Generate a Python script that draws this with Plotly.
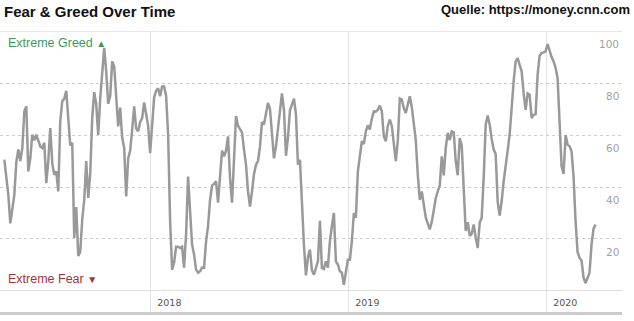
import pandas as pd
import plotly.graph_objects as go

# --- data ---
start_date = "2017-04-06"
end_date = "2020-03-31"
fear_greed = [
    50.5, 44.7, 37, 26, 31.9, 37, 49.6, 54.4, 50, 55,
    69, 71, 46, 51, 60.1, 58, 60.1, 58, 55.6, 55,
    57, 41.5, 50, 62.7, 49, 44.7, 46, 38.3, 65.3, 73,
    74, 77, 66.5, 56, 57, 20.4, 32.3, 13.5, 15, 27.5,
    35, 50, 35.8, 45, 66.5, 76.5, 72, 60, 74, 83.8,
    93.5, 84.5, 72, 75, 88.3, 86.4, 72.5, 63.3, 70.5, 59,
    55, 36.4, 51, 54, 62, 71, 62.5, 61.4, 65, 66.5,
    72.5, 67.5, 63.5, 53, 66, 74.5, 77, 78, 74.9, 78.7,
    78.7, 75, 60.1, 27, 8.2, 11, 17, 17, 16.5, 17,
    9, 22, 44, 32, 17.8, 14, 8.2, 7, 7.6, 9,
    8.9, 19, 25, 35, 40.5, 41.2, 42.2, 34, 43.5, 54,
    51.8, 54, 59.5, 43.5, 34, 50, 67.3, 63.5, 62.1, 61,
    54.4, 48.5, 38.3, 32.5, 38.3, 45, 48.6, 50, 55.6, 65,
    64, 68.5, 72.3, 70, 58.8, 51, 55.6, 62.5, 71.7, 76,
    69.7, 52, 58.8, 69.5, 71.7, 74, 68, 48.6, 50.5, 32,
    17.8, 6, 13, 15.9, 8, 6.3, 8.5, 11.4, 27, 8.9,
    8.5, 11.4, 9, 19.1, 25, 30, 11.4, 10.2, 7.6, 7,
    2.4, 8, 12, 12, 19.1, 30, 28.2, 46, 52, 57.6,
    56.5, 61.4, 63.7, 62.1, 66.3, 69.1, 69, 69.7, 71.3, 69.1,
    59.5, 57.6, 63.5, 65.9, 63.5, 55.6, 50, 57.6, 74, 73.6,
    70.3, 68.5, 71.3, 74.9, 70.7, 65.3, 58, 44.7, 35, 38.3,
    34, 28.2, 26, 23.7, 26.5, 31.3, 35.7, 38.3, 40.5, 51.8,
    44.5, 55, 60.8, 58, 61.4, 61, 50, 44.5, 58.8, 56,
    39, 23.1, 26.5, 21.2, 22, 25.6, 20.5, 16.5, 26.2, 28.2,
    43.5, 64, 67.5, 64, 58.5, 54.4, 52.7, 34.5, 29, 34.5,
    42.2, 47.3, 54, 60.1, 71, 80.6, 88.3, 89.6, 87, 84.5,
    76, 69.7, 76, 75.5, 66.5, 67.8, 68, 83.2, 90.5, 91.5,
    91.8, 92.2, 95, 92.2, 90, 88.3, 85.8, 81.9, 65, 48,
    45, 60, 56.3, 55.7, 53.7, 44, 26.8, 15, 12.7, 11.7,
    5.1, 3, 5.1, 7, 17.9, 24, 25.5,
]
dates = pd.date_range(start_date, end_date, periods=len(fear_greed))

y_ticks = [20, 40, 60, 80, 100]
y_labels = ["20", "40", "60", "80", "100"]
x_range = ["2017-03-29", "2020-05-18 19:00"]
y_range = [-8.08, 100]

title_text = "Fear &amp; Greed Over Time"
source_text = "Quelle: https://money.cnn.com"
greed_text = "Extreme Greed <span style='font-size:10px'>▲</span>"
fear_text = "Extreme Fear <span style='font-size:10px'>▼</span>"

fig = go.Figure()
fig.add_trace(go.Scatter(
    x=dates, y=fear_greed, mode="lines",
    line=dict(color="#999999", width=2.5),
    hoverinfo="skip", showlegend=False,
))

fig.update_layout(
    width=634, height=321,
    margin=dict(l=0, r=12, t=31, b=9),
    paper_bgcolor="white", plot_bgcolor="white",
    title=dict(text=title_text, x=0.0063, xanchor="left", xref="container",
               y=1 - 12 / 321, yanchor="middle", yref="container",
               font=dict(family="Liberation Sans, Arial", size=15, color="#111111", weight="bold")),
    xaxis=dict(
        type="date", range=x_range, showgrid=True, gridcolor="#e4e4e4", gridwidth=1,
        tick0="2018-01-01", dtick="M12", tickformat="%Y",
        ticks="", ticklabelposition="inside right", ticklabelshift=5, ticklabelstandoff=0,
        tickfont=dict(family="DejaVu Sans", size=9.5, color="#555555"),
        showline=True, linecolor="#cccccc", linewidth=3, zeroline=False,
    ),
    yaxis=dict(
        range=y_range, side="right", tickvals=y_ticks, showticklabels=False,
        showgrid=True, gridcolor="#cfcfcf", griddash="dot", gridwidth=1,
        zeroline=True, zerolinecolor="#dddddd", zerolinewidth=1,
        ticks="", showline=False,
    ),
)

fig.add_shape(type="line", xref="paper", yref="y", x0=0, x1=1, y0=100, y1=100,
              line=dict(color="#d0d0d0", width=1), layer="below")

for v, lab in zip(y_ticks, y_labels):
    fig.add_annotation(text=lab, xref="paper", yref="y", x=1, y=v, xanchor="right",
                       yanchor="middle", xshift=-1, yshift=-13, showarrow=False,
                       font=dict(family="DejaVu Sans", size=10.5, color="#a3a3a3"))

fig.add_annotation(text=source_text, xref="paper", yref="paper", x=1.016, y=1.0765,
                   xanchor="right", yanchor="middle", showarrow=False,
                   font=dict(family="Liberation Sans, Arial", size=13, color="#111111", weight="bold"))
fig.add_annotation(text=greed_text, xref="paper", yref="paper", x=0.0096, y=(312 - 43) / 281,
                   xanchor="left", yanchor="middle", showarrow=False,
                   font=dict(family="Liberation Sans, Arial", size=12.5, color="#3d9a5f"))
fig.add_annotation(text=fear_text, xref="paper", yref="paper", x=0.0096, y=(312 - 279) / 281,
                   xanchor="left", yanchor="middle", showarrow=False,
                   font=dict(family="Liberation Sans, Arial", size=12.5, color="#a6323f"))

fig.write_html("out.html")
